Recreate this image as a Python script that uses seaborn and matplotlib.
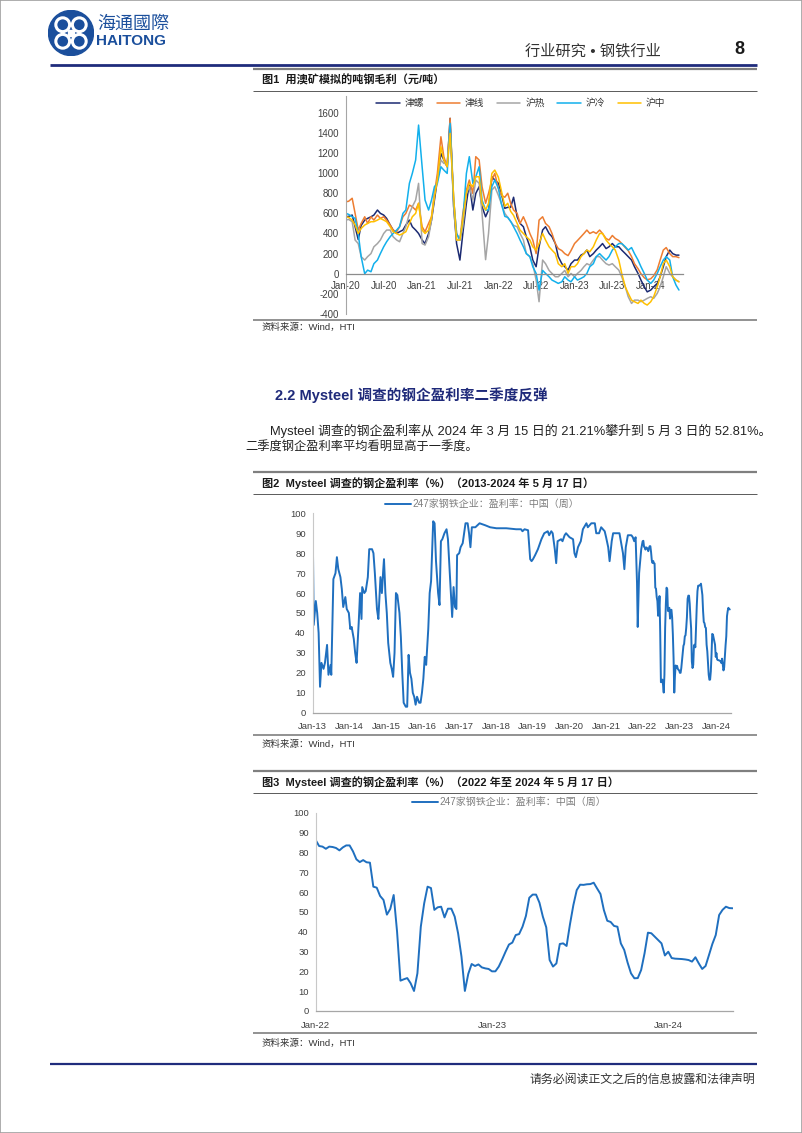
"""Rebuild the steel margin / Mysteel profitability report page."""

import matplotlib
matplotlib.use("Agg")

import matplotlib.dates as mdates
import matplotlib.pyplot as plt
import pandas as pd
import seaborn as sns
from matplotlib.lines import Line2D
from matplotlib.patches import Circle, Rectangle
from matplotlib.ticker import FixedLocator, MultipleLocator


W, H = 802, 1133

# ---- figure 1: simulated gross margin per tonne (yuan/t), semi-monthly ----
MARGIN_START, MARGIN_END = "2020-01-01", "2024-05-15"
MARGIN_NAMES = ["津螺", "津线", "沪热", "沪冷", "沪中"]
MARGIN_COLORS = ["#1B2A72", "#ED7D31", "#A5A5A5", "#12B0EC", "#FFC000"]

TJ_REBAR = [
    566, 570, 583, 467, 340, 480, 533, 550, 566, 583, 633, 600, 583, 550, 484, 434, 400, 417, 434, 484, 533, 467, 434, 400,
    335, 300, 400, 533, 732, 931, 1196, 1130, 1063, 1544, 666, 300, 136, 400, 700, 898, 633, 798, 865, 666, 566, 633, 964, 931,
    900, 800, 650, 660, 660, 760, 566, 500, 467, 368, 268, 136, 70, 268, 434, 467, 400, 368, 300, 170, 100, 70, 36, 100,
    136, 136, 185, 200, 235, 170, 200, 235, 268, 300, 250, 268, 300, 268, 268, 235, 200, 170, 136, 70, 3, -63, -130, -180,
    -162, -130, -96, -30, 70, 170, 235, 200, 185, 185,
]
TJ_WIRE = [
    715, 720, 750, 600, 434, 500, 566, 500, 566, 533, 583, 550, 566, 533, 484, 434, 417, 467, 566, 600, 682, 666, 633, 700,
    467, 417, 500, 566, 798, 997, 1361, 1163, 1063, 1544, 732, 400, 335, 600, 831, 931, 798, 1163, 1130, 865, 700, 798, 931, 997,
    850, 780, 760, 800, 700, 633, 600, 500, 566, 500, 400, 335, 200, 533, 566, 500, 467, 400, 300, 250, 230, 200, 180, 230,
    300, 330, 368, 400, 434, 400, 417, 400, 434, 400, 350, 335, 380, 350, 330, 300, 260, 230, 170, 100, 50, 0, -40, -60,
    -50, -20, 40, 136, 235, 260, 200, 170, 170, 160,
]
SH_HOT = [
    533, 540, 517, 335, 300, 170, 136, 170, 200, 268, 300, 335, 400, 434, 434, 368, 335, 318, 400, 467, 600, 666, 732, 898,
    300, 285, 368, 533, 798, 931, 1130, 1096, 1096, 1461, 666, 335, 335, 467, 798, 865, 732, 931, 898, 600, 140, 400, 831, 865,
    780, 700, 600, 560, 520, 480, 467, 400, 335, 200, 170, 100, -63, -278, 136, 100, 33, 3, -30, -30, 3, 33, -30, 3,
    -30, 3, 33, 70, 100, 86, 136, 170, 170, 136, 100, 86, 100, 70, 36, -30, -130, -228, -295, -262, -262, -278, -262, -245,
    -228, -245, -195, -130, -30, 70, 3, -30, -63, -80,
]
SH_COLD = [
    600, 590, 566, 550, 400, 170, 0, 36, 20, 100, 136, 200, 268, 318, 368, 400, 434, 467, 600, 633, 898, 997, 1130, 1477,
    1063, 732, 633, 732, 865, 898, 1063, 1030, 997, 1494, 732, 400, 335, 533, 997, 1163, 898, 964, 1063, 732, 633, 633, 865, 931,
    850, 700, 570, 560, 520, 467, 400, 335, 268, 200, 170, 70, 3, -162, 33, 3, -30, -63, -80, -96, -80, -30, -63, -80,
    -30, -63, -46, -30, 3, 70, 100, 170, 200, 170, 136, 170, 235, 268, 300, 300, 268, 235, 260, 200, 136, 70, 3, -63,
    -96, -63, 3, 70, 136, 170, 136, -30, -113, -162,
]
SH_PLATE = [
    566, 560, 533, 484, 400, 450, 484, 500, 517, 517, 533, 550, 533, 517, 467, 417, 400, 384, 400, 417, 500, 566, 600, 700,
    434, 400, 434, 566, 765, 931, 1262, 1130, 1063, 1395, 765, 335, 335, 533, 798, 898, 865, 964, 964, 700, 633, 700, 997, 1030,
    960, 830, 670, 700, 620, 580, 500, 434, 400, 368, 335, 268, 235, 300, 400, 335, 268, 235, 200, 100, 70, 100, 3, 70,
    70, 100, 170, 200, 235, 218, 268, 335, 400, 400, 335, 300, 268, 235, 136, 3, -130, -195, -262, -278, -295, -262, -295, -311,
    -278, -228, -130, -30, 100, 136, 70, -30, -63, -80,
]

# ---- figures 2/3: Mysteel profitability of 247 mills (%) ----
RATE_LABEL = "247家钢铁企业：盈利率：中国（周）"
EARLY_DATES = [
    "2013-01-04", "2013-01-11", "2013-02-01", "2013-02-15", "2013-03-01", "2013-03-15", "2013-03-29", "2013-04-19",
    "2013-05-03", "2013-05-24", "2013-06-07", "2013-06-28", "2013-07-05", "2013-07-26", "2013-08-16", "2013-08-30",
    "2013-09-13", "2013-10-04", "2013-10-18", "2013-11-01", "2013-11-22", "2013-12-06", "2013-12-27",
    "2014-01-10", "2014-01-24", "2014-02-14", "2014-02-28", "2014-03-14", "2014-04-04", "2014-04-18", "2014-05-02",
    "2014-05-09", "2014-05-30", "2014-06-13", "2014-07-04", "2014-07-18", "2014-08-15", "2014-08-29", "2014-09-12",
    "2014-10-03", "2014-10-17", "2014-11-07", "2014-11-21", "2014-12-05", "2014-12-12", "2014-12-26",
    "2015-01-09", "2015-01-23", "2015-02-13", "2015-02-27", "2015-03-13", "2015-03-27", "2015-04-10", "2015-04-24",
    "2015-05-15", "2015-05-29", "2015-06-12", "2015-06-26", "2015-07-17", "2015-07-31", "2015-08-14", "2015-08-28",
    "2015-09-11", "2015-09-25", "2015-10-09", "2015-10-23", "2015-11-06", "2015-11-27", "2015-12-11", "2015-12-25",
    "2016-01-08", "2016-01-22", "2016-02-05", "2016-02-26", "2016-03-11", "2016-03-25", "2016-04-15", "2016-04-29",
    "2016-05-13", "2016-06-03", "2016-06-17", "2016-07-01", "2016-07-15", "2016-08-05", "2016-08-26", "2016-09-09",
    "2016-09-30", "2016-10-14", "2016-10-21", "2016-11-04", "2016-11-18", "2016-12-02", "2016-12-09", "2016-12-30",
    "2017-01-13", "2017-02-03", "2017-02-17", "2017-03-03", "2017-03-24", "2017-04-07", "2017-04-21", "2017-05-05",
    "2017-06-09", "2017-07-21", "2017-09-15", "2017-11-03",
    "2018-01-05", "2018-04-13", "2018-07-20", "2018-09-07", "2018-09-21", "2018-10-12", "2018-11-16", "2018-12-07",
    "2018-12-21",
    "2019-01-04", "2019-01-25", "2019-02-22", "2019-03-29", "2019-04-26", "2019-05-31", "2019-06-14", "2019-07-05",
    "2019-07-19", "2019-08-09", "2019-08-23", "2019-09-06", "2019-10-11", "2019-10-25", "2019-11-15", "2019-11-29",
    "2020-01-03", "2020-02-07", "2020-02-21", "2020-03-06", "2020-03-27", "2020-04-24", "2020-05-15", "2020-06-19",
    "2020-07-03", "2020-08-07", "2020-09-11", "2020-09-25", "2020-10-23", "2020-11-13", "2020-12-18",
    "2021-01-01", "2021-01-22", "2021-02-05", "2021-02-26", "2021-03-12", "2021-05-14", "2021-05-28", "2021-06-18",
    "2021-07-02", "2021-07-16", "2021-08-06", "2021-09-10", "2021-09-24", "2021-10-08", "2021-10-22", "2021-11-05",
    "2021-11-12", "2021-11-26", "2021-12-17", "2021-12-31",
]
EARLY_RATE = [
    80, 44, 56, 50, 40, 13, 25, 22,
    25, 34, 19, 24, 19, 67, 70, 78,
    72, 68, 62, 53, 58, 52, 50,
    42, 43, 37, 30, 25, 45, 60, 47,
    63, 60, 61, 68, 82, 82, 80, 70,
    52, 47, 68, 60, 72, 77, 60,
    50, 35, 25, 22, 18, 30, 60, 59,
    50, 38, 20, 5, 3, 3, 29, 20,
    17, 10, 8, 4, 8, 5, 5, 10,
    17, 28, 24, 42, 60, 66, 96, 95,
    76, 60, 54, 86, 87, 90, 92, 87,
    68, 55, 48, 63, 53, 52, 79, 80,
    83, 85, 90, 95, 95, 90, 83, 93,
    93, 95, 94, 93,
    92.5, 92.5, 92, 92, 91, 92, 91.5, 77,
    76,
    77, 79, 82, 87, 90, 91, 89, 91,
    90, 82, 75, 86, 87, 86, 89, 90,
    88, 87, 80, 78, 83, 86, 92, 95,
    93, 95, 95, 90, 90, 93, 91,
    88, 83, 76, 86, 90, 90, 86, 80,
    72, 83, 89, 89, 88, 86, 88, 65,
    43, 70, 82, 86,
]
WEEKLY_START = "2022-01-07"
WEEKLY_RATE = [
    86.2, 83.2, 82.9, 81.8, 82.9, 82.7, 82.2, 81.0, 82.5, 83.5,
    83.5, 80.5, 76.5, 75.1, 76.1, 75.0, 74.8, 62.7, 62.2, 58.0,
    56.0, 48.6, 51.5, 58.5, 40.0, 15.3, 16.0, 16.6, 14.0, 10.1,
    19.0, 42.5, 54.3, 62.7, 62.0, 51.0, 52.3, 52.6, 47.2, 51.6,
    51.6, 47.6, 39.2, 27.4, 10.1, 18.7, 23.7, 22.7, 23.5, 22.0,
    21.5, 21.2, 20.0, 20.0, 22.4, 26.0, 29.9, 33.5, 34.5, 38.3,
    38.8, 42.5, 47.9, 57.1, 58.7, 58.7, 54.6, 47.6, 42.2, 25.7,
    22.4, 24.0, 33.8, 34.1, 32.8, 43.7, 53.4, 61.0, 63.7, 63.6,
    63.9, 64.0, 64.7, 61.8, 59.0, 50.9, 45.5, 44.9, 42.9, 42.5,
    34.1, 30.8, 24.4, 19.0, 16.5, 16.6, 20.7, 29.1, 39.5, 39.2,
    37.5, 35.8, 34.1, 28.0, 29.9, 26.7, 26.4, 26.3, 26.2, 26.0,
    25.7, 24.9, 27.1, 24.0, 21.2, 22.7, 28.2, 33.8, 38.3, 48.4,
    51.0, 52.6, 51.9, 51.8,
]
RATE_COLOR = "#1F6FBF"

NAVY = "#1F2A7A"
LOGO_BLUE = "#1B4F9C"
TICK_TEXT = "#404040"


def fx(px):
    return px / W


def fy(py):
    return 1 - py / H


def hline(fig, y, x0, x1, color, lw):
    fig.add_artist(Line2D([fx(x0), fx(x1)], [fy(y), fy(y)], transform=fig.transFigure,
                          color=color, linewidth=lw, solid_capstyle="butt"))


def put_text(fig, x, y, s, size, **kw):
    fig.text(fx(x), fy(y), s, fontsize=size, va="center", **kw)


def axes_px(fig, left, right, top, bottom):
    return fig.add_axes([fx(left), fy(bottom), (right - left) / W, (bottom - top) / H])


def style_axes(ax, left_color, bottom_color):
    sns.despine(ax=ax)
    ax.spines["left"].set_color(left_color)
    ax.spines["left"].set_linewidth(0.8)
    ax.spines["bottom"].set_color(bottom_color)
    ax.spines["bottom"].set_linewidth(0.9)
    ax.set_xlabel("")
    ax.set_ylabel("")
    ax.tick_params(axis="both", which="both", direction="out", length=3, width=0.7,
                   labelsize=6.8, labelcolor=TICK_TEXT, pad=2)
    ax.tick_params(axis="y", color=left_color)
    ax.tick_params(axis="x", which="both", color=bottom_color)


def caption_block(fig, top, title_y, below, bottom, source_y, title):
    hline(fig, top, 253, 757, "#7F7F7F", 1.6)
    put_text(fig, 262, title_y, title, 8, fontweight="bold", color="#1A1A1A")
    hline(fig, below, 253, 757, "#595959", 0.7)
    hline(fig, bottom, 253, 757, "#7F7F7F", 1.2)
    put_text(fig, 262, source_y, "资料来源：Wind，HTI", 6.8, color="#333333")


def draw_header(fig):
    logo = axes_px(fig, 48, 94, 10, 56)
    logo.set_xlim(-1, 1)
    logo.set_ylim(-1, 1)
    logo.axis("off")
    logo.add_patch(Circle((0, 0), 0.98, color=LOGO_BLUE))
    for dx, dy in [(-0.36, 0.36), (0.36, 0.36), (-0.36, -0.36), (0.36, -0.36)]:
        logo.add_patch(Circle((dx, dy), 0.3, fill=False, edgecolor="white", linewidth=2.2))
    logo.add_patch(Rectangle((-0.12, -0.12), 0.24, 0.24, color="white"))

    put_text(fig, 97, 24, "海通國際", 13, color=LOGO_BLUE)
    put_text(fig, 96, 41, "HAITONG", 11, color=LOGO_BLUE, fontweight="bold")
    put_text(fig, 525, 51, "行业研究 • 钢铁行业", 11, color="#333333")
    put_text(fig, 734, 49, "8", 13, color="#1A1A1A", fontweight="bold")
    hline(fig, 64.5, 50, 757, "#1F2C7C", 2.0)


def draw_margin_chart(fig):
    dates = pd.date_range(MARGIN_START, MARGIN_END, freq="SMS")
    columns = [TJ_REBAR, TJ_WIRE, SH_HOT, SH_COLD, SH_PLATE]
    frames = [pd.DataFrame({"date": dates, "value": vals, "series": name})
              for name, vals in zip(MARGIN_NAMES, columns)]
    df = pd.concat(frames, ignore_index=True)

    ax = axes_px(fig, 345.7, 682.5, 96, 314)
    sns.lineplot(data=df, x="date", y="value", hue="series", hue_order=MARGIN_NAMES,
                 palette=dict(zip(MARGIN_NAMES, MARGIN_COLORS)), linewidth=1.1, ax=ax)
    ax.set_xlim(pd.Timestamp("2020-01-01"), pd.Timestamp("2024-06-01"))
    ax.set_ylim(-400, 1766)
    ax.yaxis.set_major_locator(FixedLocator(range(-400, 1601, 200)))
    ax.spines["bottom"].set_position(("data", 0))
    ax.xaxis.set_major_locator(mdates.MonthLocator(bymonth=(1, 7)))
    ax.xaxis.set_minor_locator(mdates.MonthLocator(bymonth=(4, 10)))
    ax.xaxis.set_major_formatter(mdates.DateFormatter("%b-%y"))
    style_axes(ax, "#A6A6A6", "#8C8C8C")
    ax.tick_params(axis="x", labelsize=7, pad=2)
    ax.tick_params(axis="y", labelsize=7)

    handles, labels = ax.get_legend_handles_labels()
    ax.legend(handles, labels, loc="center", ncol=5, frameon=False, fontsize=7,
              bbox_to_anchor=(fx(521), fy(103)), bbox_transform=fig.transFigure,
              handlelength=2.4, handletextpad=0.5, columnspacing=1.3, labelcolor="#333333")


def draw_rate_chart(fig, df, box, legend_xy, weekly_ticks):
    left, right, top, bottom = box
    ax = axes_px(fig, left, right, top, bottom)
    sns.lineplot(data=df, x="date", y="rate", hue="series",
                 palette={RATE_LABEL: RATE_COLOR}, linewidth=1.4, ax=ax)
    ax.set_ylim(0, 100)
    ax.yaxis.set_major_locator(MultipleLocator(10))
    if weekly_ticks:
        dates = df["date"].tolist()
        ax.set_xlim(dates[0], dates[-1])
        ax.xaxis.set_major_locator(FixedLocator(mdates.date2num([dates[0], dates[52], dates[104]])))
        ax.xaxis.set_minor_locator(FixedLocator(mdates.date2num(dates[::13])))
    else:
        ax.set_xlim(pd.Timestamp("2013-01-01"), pd.Timestamp("2024-06-01"))
        ax.xaxis.set_major_locator(mdates.YearLocator())
    ax.xaxis.set_major_formatter(mdates.DateFormatter("%b-%y"))
    style_axes(ax, "#C8C8C8", "#A6A6A6")
    ax.tick_params(axis="x", pad=4)

    handles, labels = ax.get_legend_handles_labels()
    ax.legend(handles, labels, loc="center", frameon=False, fontsize=7.2,
              bbox_to_anchor=(fx(legend_xy[0]), fy(legend_xy[1])), bbox_transform=fig.transFigure,
              handlelength=2.6, handletextpad=0.2, labelcolor="#7F7F7F")


def main():
    sns.set_style("white")
    plt.rcParams["font.family"] = ["Liberation Sans", "Noto Sans CJK SC", "DejaVu Sans"]
    plt.rcParams["axes.unicode_minus"] = False

    fig = plt.figure(figsize=(W / 100, H / 100), dpi=100)
    fig.patch.set_facecolor("white")
    fig.add_artist(Rectangle((0, 0), 1, 1, transform=fig.transFigure, fill=False,
                             edgecolor="#A0A0A0", linewidth=1.2))

    draw_header(fig)

    caption_block(fig, 69, 80, 91, 320, 327, "图1  用澳矿模拟的吨钢毛利（元/吨）")
    draw_margin_chart(fig)

    put_text(fig, 275, 395, "2.2 Mysteel 调查的钢企盈利率二季度反弹", 10.5,
             fontweight="bold", color=NAVY)
    put_text(fig, 270, 431,
             "Mysteel 调查的钢企盈利率从 2024 年 3 月 15 日的 21.21%攀升到 5 月 3 日的 52.81%。",
             9.3, color="#222222")
    put_text(fig, 245, 448, "二季度钢企盈利率平均看明显高于一季度。", 8.8, color="#222222")

    weekly_dates = pd.date_range(WEEKLY_START, periods=len(WEEKLY_RATE), freq="7D")
    weekly = pd.DataFrame({"date": weekly_dates, "rate": WEEKLY_RATE, "series": RATE_LABEL})
    early = pd.DataFrame({"date": pd.to_datetime(EARLY_DATES), "rate": EARLY_RATE, "series": RATE_LABEL})
    full = pd.concat([early, weekly], ignore_index=True)

    caption_block(fig, 471.5, 483, 494, 735, 744,
                  "图2  Mysteel 调查的钢企盈利率（%）（2013-2024 年 5 月 17 日）")
    draw_rate_chart(fig, full, (312.7, 731.3, 513.3, 712.7), (482, 504), weekly_ticks=False)

    caption_block(fig, 770.5, 782, 793, 1033, 1043,
                  "图3  Mysteel 调查的钢企盈利率（%）（2022 年至 2024 年 5 月 17 日）")
    draw_rate_chart(fig, weekly, (315.7, 732.7, 812.7, 1011), (509, 802), weekly_ticks=True)

    hline(fig, 1064, 50, 757, "#1F2C7C", 1.6)
    fig.text(fx(755), fy(1080), "请务必阅读正文之后的信息披露和法律声明", fontsize=8.6,
             ha="right", va="center", color="#333333")

    fig.savefig("out.png", dpi=100, facecolor="white")
    plt.close(fig)


if __name__ == "__main__":
    main()
